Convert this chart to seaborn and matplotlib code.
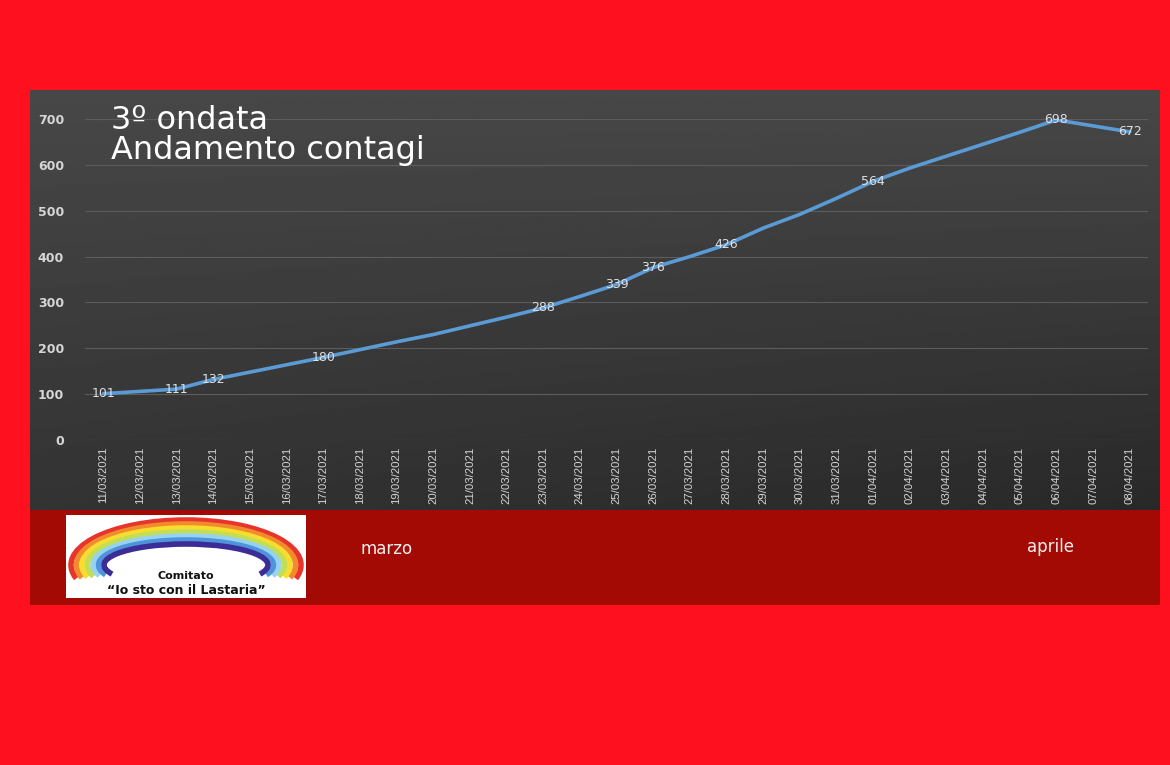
import matplotlib.pyplot as plt
import matplotlib.patches as mpatches
import numpy as np
import pandas as pd
import seaborn as sns

# dati
date = ['11/03/2021', '12/03/2021', '13/03/2021', '14/03/2021', '15/03/2021',
        '16/03/2021', '17/03/2021', '18/03/2021', '19/03/2021', '20/03/2021',
        '21/03/2021', '22/03/2021', '23/03/2021', '24/03/2021', '25/03/2021',
        '26/03/2021', '27/03/2021', '28/03/2021', '29/03/2021', '30/03/2021',
        '31/03/2021', '01/04/2021', '02/04/2021', '03/04/2021', '04/04/2021',
        '05/04/2021', '06/04/2021', '07/04/2021', '08/04/2021']
contagi = [101, 106, 111, 132, 148, 164, 180, 197, 214, 230, 249, 268, 288, 313,
           339, 376, 400, 426, 462, 492, 527, 564, 593, 619, 645, 671, 698, 685, 672]
date_etichettate = ['11/03/2021', '13/03/2021', '14/03/2021', '17/03/2021',
                    '23/03/2021', '25/03/2021', '26/03/2021', '28/03/2021',
                    '01/04/2021', '06/04/2021', '08/04/2021']
y_ticks = [0, 100, 200, 300, 400, 500, 600, 700]
mesi = ['marzo', 'aprile']

W, H = 1170, 765
RED = '#fe101e'
DARK_RED = '#a20a03'
LINE = '#5b9bd5'


def fx(px):
    return px / W


def fy(py):
    return 1 - py / H


def draw_background(fig):
    # pannello grigio con sfumatura
    bg = fig.add_axes([fx(30), fy(510), fx(1130), 420 / H], zorder=0)
    yy, xx = np.mgrid[0:1:200j, 0:1:300j]
    grad = 0.28 - 0.08 * yy - 0.04 * xx * yy
    bg.imshow(grad, cmap='gray', vmin=0, vmax=1, aspect='auto',
              extent=[0, 1, 0, 1], origin='upper')
    bg.set_axis_off()
    # fascia rossa scura
    fig.add_artist(mpatches.Rectangle((fx(30), fy(605)), fx(1130), 95 / H,
                                      transform=fig.transFigure,
                                      facecolor=DARK_RED, edgecolor='none', zorder=0))


def draw_logo(fig):
    lg = fig.add_axes([fx(66), fy(598), fx(240), 83 / H], zorder=3)
    lg.set_facecolor('white')
    lg.set_xlim(0, 240)
    lg.set_ylim(0, 83)
    lg.set_xticks([])
    lg.set_yticks([])
    for s in lg.spines.values():
        s.set_visible(False)
    colori = ['#e8352c', '#f28b2e', '#f6dd2e', '#c3de55', '#97d3f0', '#4f93dc', '#3b2c96']
    for i, c in enumerate(colori):
        lg.add_patch(mpatches.Arc((120, 33), 2 * (115 - 5.5 * i), 2 * (45 - 4.0 * i),
                                  theta1=-7, theta2=187, color=c, lw=4.0))
    lg.text(120, 22, 'Comitato', ha='center', va='center', fontsize=8,
            fontweight='bold', color='#111111')
    lg.text(120, 8, '\u201cIo sto con il Lastaria\u201d', ha='center', va='center',
            fontsize=9, fontweight='bold', color='#111111')


def plot_data(df):
    sns.set_style('white')
    fig = plt.figure(figsize=(W / 100, H / 100), dpi=100, facecolor=RED)
    draw_background(fig)

    ax = fig.add_axes([fx(85), fy(440), fx(1063), 321 / H], zorder=2)
    ax.set_facecolor('none')
    sns.lineplot(x='Data', y='Contagi', data=df, ax=ax, color=LINE, linewidth=2.6,
                 sort=False, errorbar=None)
    ax.set_xlim(-0.5, len(date) - 0.5)
    ax.set_ylim(0, 700)
    ax.set_yticks(y_ticks)
    ax.set_xlabel('')
    ax.set_ylabel('')
    for s in ax.spines.values():
        s.set_visible(False)
    ax.grid(axis='y', color='#5c5c5c', linewidth=0.8)
    ax.grid(axis='x', visible=False)
    ax.set_axisbelow(True)

    ax.set_xticks(range(len(date)))
    ax.set_xticklabels(date, rotation=90, fontsize=8.2, color='#d4d4d4',
                       family='Liberation Sans')
    ax.set_xticks(np.arange(-0.5, len(date), 1.0), minor=True)
    ax.tick_params(axis='x', which='major', length=0, pad=5)
    ax.tick_params(axis='x', which='minor', length=4, color='#6a6a6a', width=0.8)
    ax.tick_params(axis='y', length=0, pad=15, labelsize=9, labelcolor='#d6d6d6')
    for t in ax.get_yticklabels():
        t.set_fontweight('bold')

    for i, (d, v) in enumerate(zip(df['Data'], df['Contagi'])):
        if d in date_etichettate:
            ax.text(i, v, str(v), ha='center', va='center', fontsize=9,
                    color='#e0e0e0', zorder=5)

    fig.text(fx(111), fy(129), '3º ondata', fontsize=23, color='white', va='baseline')
    fig.text(fx(111), fy(159), 'Andamento contagi', fontsize=23, color='white',
             va='baseline')

    fig.text(fx(360), fy(549), mesi[0], fontsize=12, color='#f2f2f2', va='center')
    fig.text(fx(1027), fy(547), mesi[1], fontsize=12, color='#f2f2f2', va='center')

    draw_logo(fig)
    fig.savefig('out.png', dpi=100, facecolor=RED)


def main():
    df = pd.DataFrame({'Data': date, 'Contagi': contagi})
    plot_data(df)


if __name__ == "__main__":
    main()
